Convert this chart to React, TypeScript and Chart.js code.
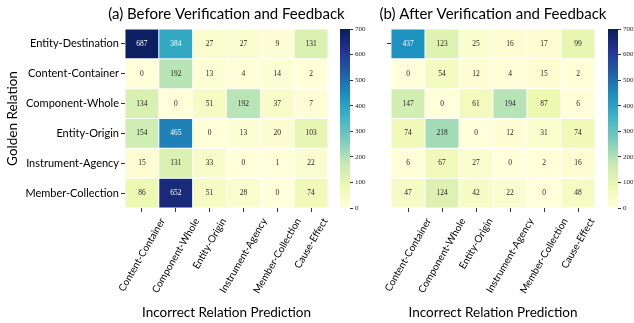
import React, { useEffect, useRef } from "react";
import { Chart, registerables } from "chart.js";

Chart.register(...registerables);

const rowLabels = [
  "Entity-Destination",
  "Content-Container",
  "Component-Whole",
  "Entity-Origin",
  "Instrument-Agency",
  "Member-Collection",
];
const colLabels = [
  "Content-Container",
  "Component-Whole",
  "Entity-Origin",
  "Instrument-Agency",
  "Member-Collection",
  "Cause-Effect",
];
const beforeValues = [
  [687, 384, 27, 27, 9, 131],
  [0, 192, 13, 4, 14, 2],
  [134, 0, 51, 192, 37, 7],
  [154, 465, 0, 13, 20, 103],
  [15, 131, 33, 0, 1, 22],
  [86, 652, 51, 28, 0, 74],
];
const afterValues = [
  [437, 123, 25, 16, 17, 99],
  [0, 54, 12, 4, 15, 2],
  [147, 0, 61, 194, 87, 6],
  [74, 218, 0, 12, 31, 74],
  [6, 67, 27, 0, 2, 16],
  [47, 124, 42, 22, 0, 48],
];
const colorbarRange = [0, 700];
const colorbarTickStep = 100;
const titleBefore = "(a) Before Verification and Feedback";
const titleAfter = "(b) After Verification and Feedback";
const yTitle = "Golden Relation";
const xTitle = "Incorrect Relation Prediction";

const W = 634;
const H = 323;
const SANS = "Lato";
const SERIF = "'Liberation Serif'";

const YLGNBU = [
  "#ffffd9",
  "#edf8b1",
  "#c7e9b4",
  "#7fcdbb",
  "#41b6c4",
  "#1d91c0",
  "#225ea8",
  "#253494",
  "#081d58",
];

function hexToRgb(h: string) {
  return [
    parseInt(h.slice(1, 3), 16),
    parseInt(h.slice(3, 5), 16),
    parseInt(h.slice(5, 7), 16),
  ];
}

function colorFor(v: number) {
  const t = Math.max(0, Math.min(1, (v - colorbarRange[0]) / (colorbarRange[1] - colorbarRange[0])));
  const pos = t * (YLGNBU.length - 1);
  const i = Math.min(YLGNBU.length - 2, Math.floor(pos));
  const f = pos - i;
  const a = hexToRgb(YLGNBU[i]);
  const b = hexToRgb(YLGNBU[i + 1]);
  const c = a.map((x, k) => Math.round(x + (b[k] - x) * f));
  return `rgb(${c[0]},${c[1]},${c[2]})`;
}

function textColorFor(v: number) {
  return v > 300 ? "#ffffff" : "#262626";
}

const cellLabelPlugin = {
  id: "cellLabels",
  afterDatasetsDraw(chart: any, _args: any, opts: any) {
    const matrix: number[][] = opts.matrix;
    if (!matrix) return;
    const ctx = chart.ctx;
    ctx.save();
    ctx.font = `7.5px ${SERIF}`;
    ctx.textAlign = "center";
    ctx.textBaseline = "middle";
    chart.data.datasets.forEach((_ds: any, i: number) => {
      const meta = chart.getDatasetMeta(i);
      meta.data.forEach((bar: any, j: number) => {
        const v = matrix[i][j];
        const cy = (bar.y + bar.base) / 2;
        ctx.fillStyle = textColorFor(v);
        ctx.fillText(String(v), bar.x, cy);
      });
    });
    ctx.restore();
  },
};

// x tick labels rotated 60deg, horizontally centred under each tick (as matplotlib ha="center")
const centeredRotatedXLabels = {
  id: "centeredXLabels",
  afterDraw(chart: any, _args: any, opts: any) {
    const scale = chart.scales.x;
    const labels: string[] = chart.data.labels;
    const ctx = chart.ctx;
    const ang = (opts.rotation * Math.PI) / 180;
    ctx.save();
    ctx.font = `${opts.size}px ${SANS}`;
    ctx.fillStyle = "#000";
    ctx.textAlign = "right";
    ctx.textBaseline = "middle";
    labels.forEach((lab, i) => {
      const x = scale.getPixelForTick(i);
      const w = ctx.measureText(lab).width;
      ctx.save();
      ctx.translate(x + (w * Math.cos(ang)) / 2, scale.top + opts.offset);
      ctx.rotate(-ang);
      ctx.fillText(lab, 0, 0);
      ctx.restore();
    });
    ctx.restore();
  },
};

const panelTitlePlugin = {
  id: "panelTitle",
  afterDraw(chart: any, _args: any, opts: any) {
    if (!opts.text) return;
    const { ctx, chartArea } = chart;
    ctx.save();
    ctx.font = `15px ${SANS}`;
    ctx.fillStyle = "#000";
    ctx.textAlign = "center";
    ctx.textBaseline = "middle";
    ctx.fillText(opts.text, (chartArea.left + chartArea.right) / 2, opts.y);
    ctx.restore();
  },
};

type HeatProps = {
  matrix: number[][];
  title: string;
  canvasWidth: number;
  areaLeft: number;
  areaRight: number;
  showYLabels: boolean;
};

const AREA_TOP = 29;
const AREA_BOTTOM = 208;

function makeHeatmap(canvas: HTMLCanvasElement, p: HeatProps) {
  const datasets = rowLabels.map((r, i) => ({
    label: r,
    data: colLabels.map(() => 1),
    backgroundColor: p.matrix[i].map((v) => colorFor(v)),
    borderColor: "#ffffff",
    borderWidth: 0.8,
    borderSkipped: false,
    barPercentage: 1,
    categoryPercentage: 1,
  }));
  return new Chart(canvas, {
    type: "bar",
    data: { labels: colLabels, datasets },
    plugins: [cellLabelPlugin, panelTitlePlugin, centeredRotatedXLabels],
    options: {
      responsive: false,
      animation: false,
      events: [],
      layout: {
        padding: {
          left: 0,
          right: p.canvasWidth - p.areaRight,
          top: AREA_TOP,
          bottom: 0,
        },
      },
      plugins: {
        legend: { display: false },
        tooltip: { enabled: false },
        title: { display: false },
        panelTitle: { text: p.title, y: 14.5 },
        cellLabels: { matrix: p.matrix },
        centeredXLabels: { rotation: 60, size: 10, offset: 11 },
      } as any,
      scales: {
        x: {
          stacked: true,
          grid: {
            display: true,
            offset: false,
            drawOnChartArea: false,
            drawTicks: true,
            tickLength: 4,
            tickColor: "#333",
          },
          border: { display: false },
          ticks: { display: false },
          title: {
            display: true,
            text: xTitle,
            color: "#000",
            font: { family: SANS, size: 13.5 },
            padding: { top: 0, bottom: 2 },
          },
          afterFit: (s: any) => {
            s.height = H - AREA_BOTTOM;
          },
        },
        y: {
          stacked: true,
          reverse: true,
          min: 0,
          max: rowLabels.length,
          grid: {
            display: true,
            drawOnChartArea: false,
            drawTicks: true,
            tickLength: 4,
            tickColor: p.showYLabels
              ? "#333"
              : (c: any) => (c.index === 0 ? "#333" : "rgba(0,0,0,0)"),
          },
          border: { display: false },
          afterBuildTicks: (s: any) => {
            s.ticks = rowLabels.map((_r, i) => ({ value: i + 0.5 }));
          },
          ticks: {
            display: p.showYLabels,
            color: "#000",
            padding: 2,
            font: { family: SANS, size: 11 },
            callback: (v: any) => rowLabels[Math.floor(Number(v))] ?? "",
          },
          title: {
            display: p.showYLabels,
            text: yTitle,
            color: "#000",
            font: { family: SANS, size: 13.5 },
            padding: { top: 5, bottom: 0 },
          },
          afterFit: (s: any) => {
            s.width = p.areaLeft;
          },
        },
      },
    } as any,
  });
}

function makeColorbar(canvas: HTMLCanvasElement, left: number, right: number, axisWidth: number) {
  const ticks: number[] = [];
  for (let v = colorbarRange[0]; v <= colorbarRange[1]; v += colorbarTickStep) ticks.push(v);
  return new Chart(canvas, {
    type: "bar",
    data: {
      labels: [""],
      datasets: [
        {
          data: [[colorbarRange[0], colorbarRange[1]]],
          backgroundColor: (c: any) => {
            const area = c.chart.chartArea;
            if (!area) return YLGNBU[0];
            const g = c.chart.ctx.createLinearGradient(0, area.bottom, 0, area.top);
            YLGNBU.forEach((col, i) => g.addColorStop(i / (YLGNBU.length - 1), col));
            return g;
          },
          borderWidth: 0,
          barPercentage: 1,
          categoryPercentage: 1,
        } as any,
      ],
    },
    options: {
      responsive: false,
      animation: false,
      events: [],
      layout: {
        padding: {
          left: left,
          right: W - right - axisWidth,
          top: AREA_TOP,
          bottom: H - AREA_BOTTOM,
        },
      },
      plugins: { legend: { display: false }, tooltip: { enabled: false } },
      scales: {
        x: { display: false },
        y: {
          position: "right",
          min: colorbarRange[0],
          max: colorbarRange[1],
          grid: {
            display: true,
            drawOnChartArea: false,
            drawTicks: true,
            tickLength: 3,
            tickColor: "#333",
          },
          border: { display: false },
          afterBuildTicks: (s: any) => {
            s.ticks = ticks.map((v) => ({ value: v }));
          },
          ticks: {
            color: "#222",
            padding: 2,
            font: { family: SERIF, size: 7 },
          },
          afterFit: (s: any) => {
            s.width = axisWidth;
          },
        },
      },
    } as any,
  });
}

const LEFT_CANVAS = { x: 0, w: 452 };
const RIGHT_CANVAS = { x: 352, w: 282 };

export default function App() {
  const r1 = useRef<HTMLCanvasElement>(null);
  const r2 = useRef<HTMLCanvasElement>(null);
  const r3 = useRef<HTMLCanvasElement>(null);
  const r4 = useRef<HTMLCanvasElement>(null);

  useEffect(() => {
    const charts: Chart[] = [];
    charts.push(
      makeHeatmap(r1.current!, {
        matrix: beforeValues,
        title: titleBefore,
        canvasWidth: LEFT_CANVAS.w,
        areaLeft: 125 - LEFT_CANVAS.x,
        areaRight: 328 - LEFT_CANVAS.x,
        showYLabels: true,
      })
    );
    charts.push(makeColorbar(r2.current!, 340, 350, 22));
    charts.push(
      makeHeatmap(r3.current!, {
        matrix: afterValues,
        title: titleAfter,
        canvasWidth: RIGHT_CANVAS.w,
        areaLeft: 391 - RIGHT_CANVAS.x,
        areaRight: 595 - RIGHT_CANVAS.x,
        showYLabels: false,
      })
    );
    charts.push(makeColorbar(r4.current!, 608, 618, 16));
    return () => charts.forEach((c) => c.destroy());
  }, []);

  const full: React.CSSProperties = {
    position: "absolute",
    left: 0,
    top: 0,
    width: W,
    height: H,
  };
  return (
    <div
      style={{
        position: "fixed",
        left: 0,
        top: 0,
        width: W,
        height: H,
        background: "#fff",
      }}
    >
      <canvas
        ref={r1}
        width={LEFT_CANVAS.w}
        height={H}
        style={{ position: "absolute", left: LEFT_CANVAS.x, top: 0, width: LEFT_CANVAS.w, height: H }}
      />
      <canvas ref={r2} width={W} height={H} style={full} />
      <canvas
        ref={r3}
        width={RIGHT_CANVAS.w}
        height={H}
        style={{ position: "absolute", left: RIGHT_CANVAS.x, top: 0, width: RIGHT_CANVAS.w, height: H }}
      />
      <canvas ref={r4} width={W} height={H} style={full} />
    </div>
  );
}
